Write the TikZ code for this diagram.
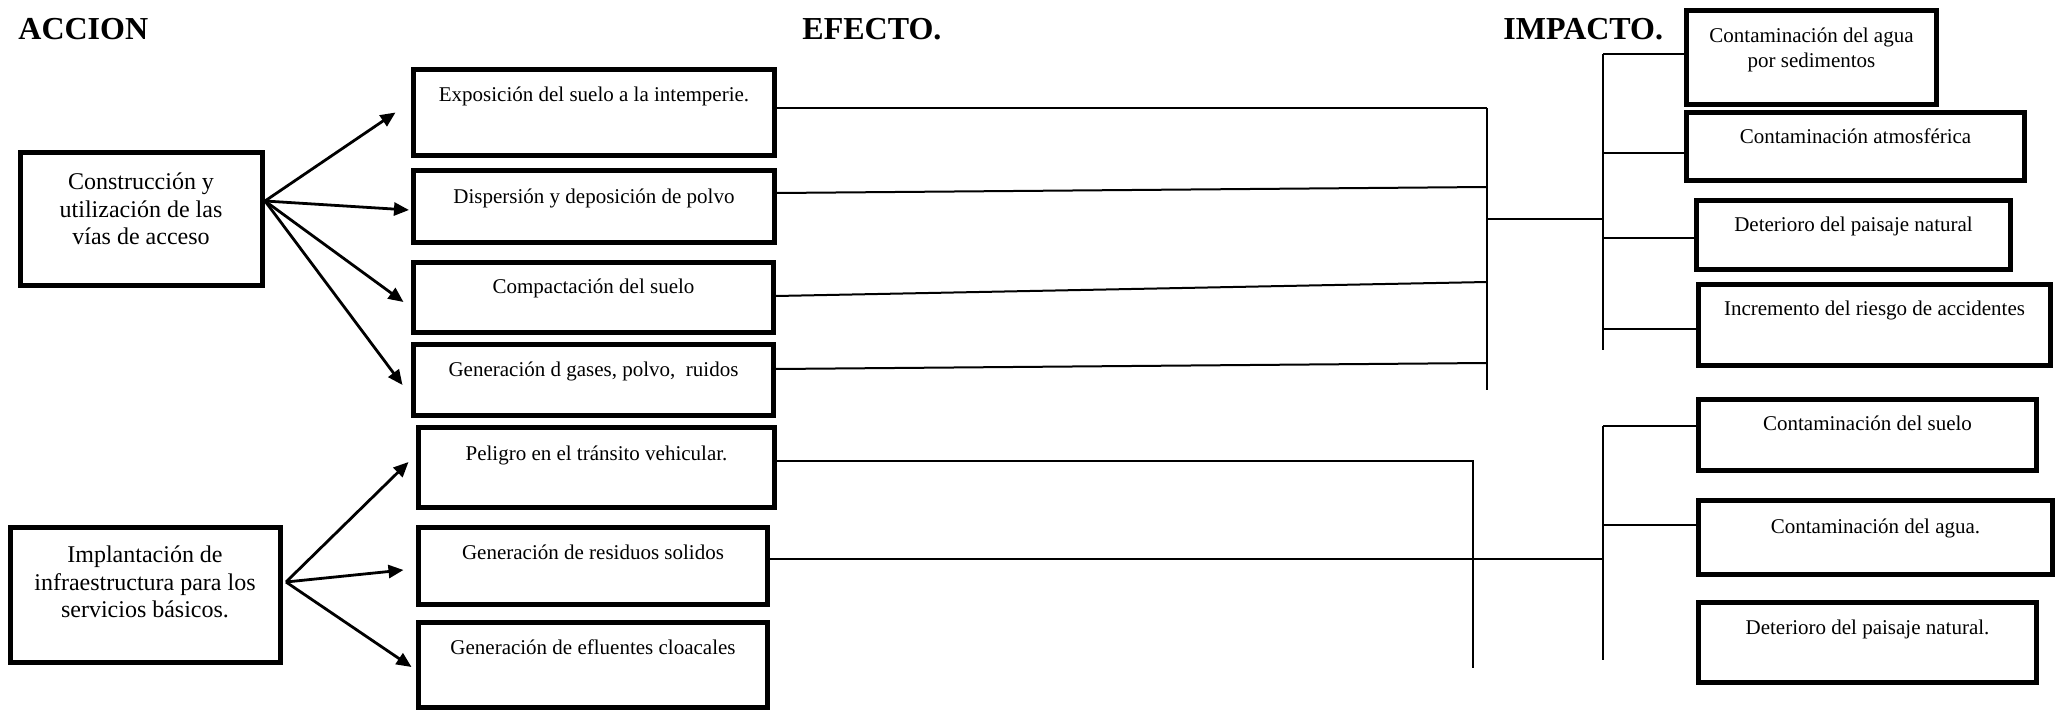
\documentclass[tikz,border=0pt]{standalone}
\usepackage{fontspec}
\setmainfont{Liberation Serif}
\usetikzlibrary{arrows.meta,fit,calc}
\begin{document}
\begin{tikzpicture}[x=0.5pt,y=-0.5pt,
  bx/.style={draw, line width=2.5pt, inner sep=0pt},
  head/.style={font=\fontsize{16}{19}\selectfont\bfseries, inner sep=0pt, anchor=base west},
  atxt/.style={font=\fontsize{12}{13.75}\selectfont, align=center, inner sep=0pt},
  etxt/.style={font=\fontsize{10.5}{12.5}\selectfont, align=center, inner sep=0pt, anchor=base},
  arr/.style={line width=1.4pt, -{Triangle[length=7.5pt,width=6.5pt]}},
  ln/.style={line width=1pt}]
\useasboundingbox (0,0) rectangle (2062,711);

% headings
\node[head] (hacc) at (18,40) {ACCION};
\node[head] (hefe) at (802,40) {EFECTO.};
\node[head] (himp) at (1503,40) {IMPACTO.};

% action boxes
\node[bx, fit={(20.5,152.5) (262.5,285.5)}] (a1) {};
\node[bx, fit={(10.5,527.5) (280.5,662.5)}] (a2) {};
\node[atxt] (a1t) at (141,209) {Construcción y\\utilización de las\\vías de acceso};
\node[atxt] (a2t) at (145,582) {Implantación de\\infraestructura para los\\servicios básicos.};

% effect boxes
\node[bx, fit={(413.5,69.5) (774.5,155.5)}] (e1) {};
\node[bx, fit={(413.5,170.5) (774.5,242.5)}] (e2) {};
\node[bx, fit={(413.5,262.5) (773.5,332.5)}] (e3) {};
\node[bx, fit={(413.5,344.5) (773.5,415.5)}] (e4) {};
\node[bx, fit={(418.5,427.5) (774.5,507.5)}] (e5) {};
\node[bx, fit={(418.5,527.5) (767.5,604.5)}] (e6) {};
\node[bx, fit={(418.5,622.5) (767.5,707.5)}] (e7) {};
\node[etxt] (e1t) at (594,102) {Exposición del suelo a la intemperie.};
\node[etxt] (e2t) at (594,204) {Dispersión y deposición de polvo};
\node[etxt] (e3t) at (593.5,294) {Compactación del suelo};
\node[etxt] (e4t) at (593.5,377) {Generación d gases, polvo,\ \ ruidos};
\node[etxt] (e5t) at (596.5,460) {Peligro en el tránsito vehicular.};
\node[etxt] (e6t) at (593,559) {Generación de residuos solidos};
\node[etxt] (e7t) at (593,654) {Generación de efluentes cloacales};

% impact boxes
\node[bx, fit={(1686.5,10.5) (1936.5,104.5)}] (i1) {};
\node[bx, fit={(1686.5,112.5) (2024.5,180.5)}] (i2) {};
\node[bx, fit={(1696.5,200.5) (2010.5,269.5)}] (i3) {};
\node[bx, fit={(1698.5,284.5) (2050.5,365.5)}] (i4) {};
\node[bx, fit={(1698.5,399.5) (2036.5,470.5)}] (i5) {};
\node[bx, fit={(1698.5,500.5) (2052.5,574.5)}] (i6) {};
\node[bx, fit={(1698.5,602.5) (2036.5,682.5)}] (i7) {};
\node[etxt, anchor=center] (i1t) at (1811.5,49.5) {Contaminación del agua\\por sedimentos};
\node[etxt] (i2t) at (1855.5,144) {Contaminación atmosférica};
\node[etxt] (i3t) at (1853.5,232) {Deterioro del paisaje natural};
\node[etxt] (i4t) at (1874.5,315) {Incremento del riesgo de accidentes};
\node[etxt] (i5t) at (1867.5,430) {Contaminación del suelo};
\node[etxt] (i6t) at (1875.5,533) {Contaminación del agua.};
\node[etxt] (i7t) at (1867.5,634) {Deterioro del paisaje natural.};

% arrows
\coordinate (a1o) at (265,201);
\draw[arr] (a1o) -- ([xshift=-7.75pt]e1.west);
\draw[arr] (a1o) -- ([xshift=-1pt,yshift=-1.75pt]e2.west);
\draw[arr] (a1o) -- ([xshift=-3.75pt,yshift=-2.25pt]e3.west);
\draw[arr] (a1o) -- ([xshift=-4.25pt,yshift=-2.5pt]e4.west);
\coordinate (a2o) at (286,582);
\draw[arr] (a2o) -- ([xshift=-3.75pt,yshift=2.75pt]e5.west);
\draw[arr] (a2o) -- ([xshift=-6.25pt,yshift=-2pt]e6.west);
\draw[arr] (a2o) -- ([xshift=-2.25pt,yshift=-1pt]e7.west);

% upper bracket
\coordinate (j1) at (1487,108);
\coordinate (j2) at (1487,187);
\coordinate (j3) at (1487,282);
\coordinate (j4) at (1487,363);
\coordinate (b1e) at (1487,390);
\coordinate (b1m) at (1487,219);
\coordinate (k0) at (1603,219);
\coordinate (k1) at (1603,54);
\coordinate (k2) at (1603,153);
\coordinate (k3) at (1603,238);
\coordinate (k4) at (1603,329);
\coordinate (k5) at (1603,350);
\draw[ln] ([yshift=2.25pt]e1.east) -- (j1);
\draw[ln] ([yshift=6.75pt]e2.east) -- (j2);
\draw[ln] ([yshift=0.75pt]e3.east) -- (j3);
\draw[ln] ([yshift=5.5pt]e4.east) -- (j4);
\draw[ln] (j1) -- (b1e);
\draw[ln] (b1m) -- (k0);
\draw[ln] (k1) -- (k5);
\draw[ln] (k1) -- (k1 -| i1.west);
\draw[ln] (k2) -- (k2 -| i2.west);
\draw[ln] (k3) -- (k3 -| i3.west);
\draw[ln] (k4) -- (k4 -| i4.west);

% lower bracket
\coordinate (m1) at (1473,461);
\coordinate (m2) at (1473,668);
\draw[ln] ([yshift=3.25pt]e5.east) -- (m1) -- (m2);
\coordinate (n0) at (1603,559);
\coordinate (n1) at (1603,426);
\coordinate (n2) at (1603,525);
\coordinate (n3) at (1603,660);
\draw[ln] ([yshift=3.5pt]e6.east) -- (n0);
\draw[ln] (n1) -- (n3);
\draw[ln] (n1) -- (n1 -| i5.west);
\draw[ln] (n2) -- (n2 -| i6.west);
\end{tikzpicture}
\end{document}
